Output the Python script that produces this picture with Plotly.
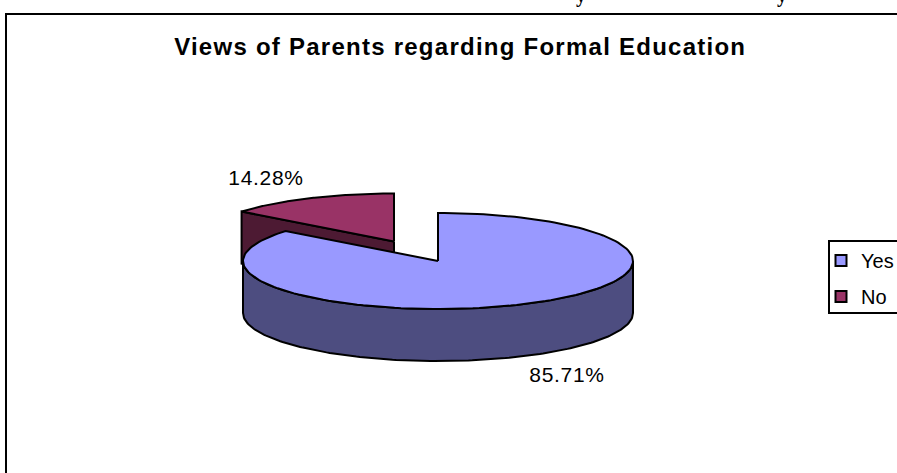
import math
import plotly.graph_objects as go

categories = ["Yes", "No"]
values = [85.71, 14.28]
title_text = "Views of Parents regarding Formal Education"

BLUE_TOP, BLUE_SIDE = "#9999FF", "#4D4D80"
RED_TOP, RED_SIDE = "#993366", "#4D1A33"
RX, RY, DEPTH = 195, 48, 52
YES_C = (438, 261)
NO_C = (394, 241.5)

total = sum(values)
no_sweep = 2 * math.pi * values[1] / total


def pt(c, a, dy=0):
    # angle a measured clockwise from the top of the tilted disc
    return c[0] + RX * math.sin(a), c[1] - RY * math.cos(a) + dy


def arc(c, a0, a1, dy=0, n=160):
    return [pt(c, a0 + (a1 - a0) * i / n, dy) for i in range(n + 1)]


def poly(points, fill, name):
    xs = [p[0] for p in points]
    ys = [p[1] for p in points]
    return go.Scatter(x=xs + xs[:1], y=ys + ys[:1], mode="lines", fill="toself",
                      fillcolor=fill, line=dict(color="black", width=2),
                      showlegend=False, hoverinfo="skip", name=name)


fig = go.Figure()

# "No" slice: radial side face, then top
a_no = -no_sweep
p_c = NO_C
p_l = pt(NO_C, a_no)
fig.add_trace(poly([p_c, p_l, (p_l[0], p_l[1] + DEPTH), (p_c[0], p_c[1] + DEPTH)], RED_SIDE, "No side"))
fig.add_trace(poly([NO_C] + arc(NO_C, a_no, 0), RED_TOP, "No"))

# "Yes" slice: outer wall (front half), then top
a_yes_end = 2 * math.pi - no_sweep
front = arc(YES_C, math.pi / 2, 3 * math.pi / 2)
front_low = arc(YES_C, 3 * math.pi / 2, math.pi / 2, DEPTH)
fig.add_trace(poly(front + front_low, BLUE_SIDE, "Yes side"))
fig.add_trace(poly([YES_C] + arc(YES_C, 0, a_yes_end), BLUE_TOP, "Yes"))

# Data labels
fig.add_trace(go.Scatter(x=[266, 567], y=[180, 377], mode="text",
                         text=[f"{values[1]:.2f}%", f"{values[0]:.2f}%"],
                         textfont=dict(family="Liberation Sans", size=21, color="black"),
                         showlegend=False, hoverinfo="skip"))

# Legend entries
for name, color in zip(categories, [BLUE_TOP, RED_TOP]):
    fig.add_trace(go.Scatter(x=[None], y=[None], mode="markers", name=name, legendgroup=name,
                             marker=dict(symbol="square", size=11, color=color,
                                         line=dict(color="black", width=2))))

# Descenders of the page text above the chart, cropped by the top edge as in the reference
cut_off_y = dict(y=1 + 18 / 473, xref="x", yref="paper", text="<b>y</b>", showarrow=False,
                 font=dict(family="Liberation Serif", size=20, color="black"))

fig.update_layout(
    width=897, height=473, autosize=False,
    margin=dict(l=0, r=0, t=0, b=0, autoexpand=False),
    paper_bgcolor="white", plot_bgcolor="white",
    xaxis=dict(range=[0, 897], visible=False, fixedrange=True),
    yaxis=dict(range=[473, 0], visible=False, fixedrange=True),
    legend=dict(x=821 / 897, y=1 - 241 / 473, xanchor="left", yanchor="top",
                bgcolor="rgba(0,0,0,0)", borderwidth=0,
                font=dict(family="Liberation Sans", size=20, color="black"),
                tracegroupgap=7),
    annotations=[
        dict(x=460, y=46, xref="x", yref="y", text=f"<b>{title_text}</b>",
             showarrow=False,
             font=dict(family="Liberation Sans", size=24, color="black")),
        dict(x=581, **cut_off_y),
        dict(x=782, **cut_off_y),
    ],
    shapes=[
        dict(type="rect", xref="x", yref="y", x0=6, y0=14, x1=920, y1=500,
             line=dict(color="black", width=2), layer="below"),
        dict(type="rect", xref="x", yref="y", x0=829, y0=241, x1=920, y1=313,
             line=dict(color="black", width=2), fillcolor="white", layer="below"),
    ],
)

post = """
document.body.style.margin = '0';
var t = document.querySelectorAll('.annotation-text');
if (t.length) { t[0].style.letterSpacing = '1.25px'; }
document.querySelectorAll('.textpoint text').forEach(function (e) { e.style.letterSpacing = '0.7px'; });
"""
fig.write_html("out.html", post_script=post, config={"displayModeBar": False})
